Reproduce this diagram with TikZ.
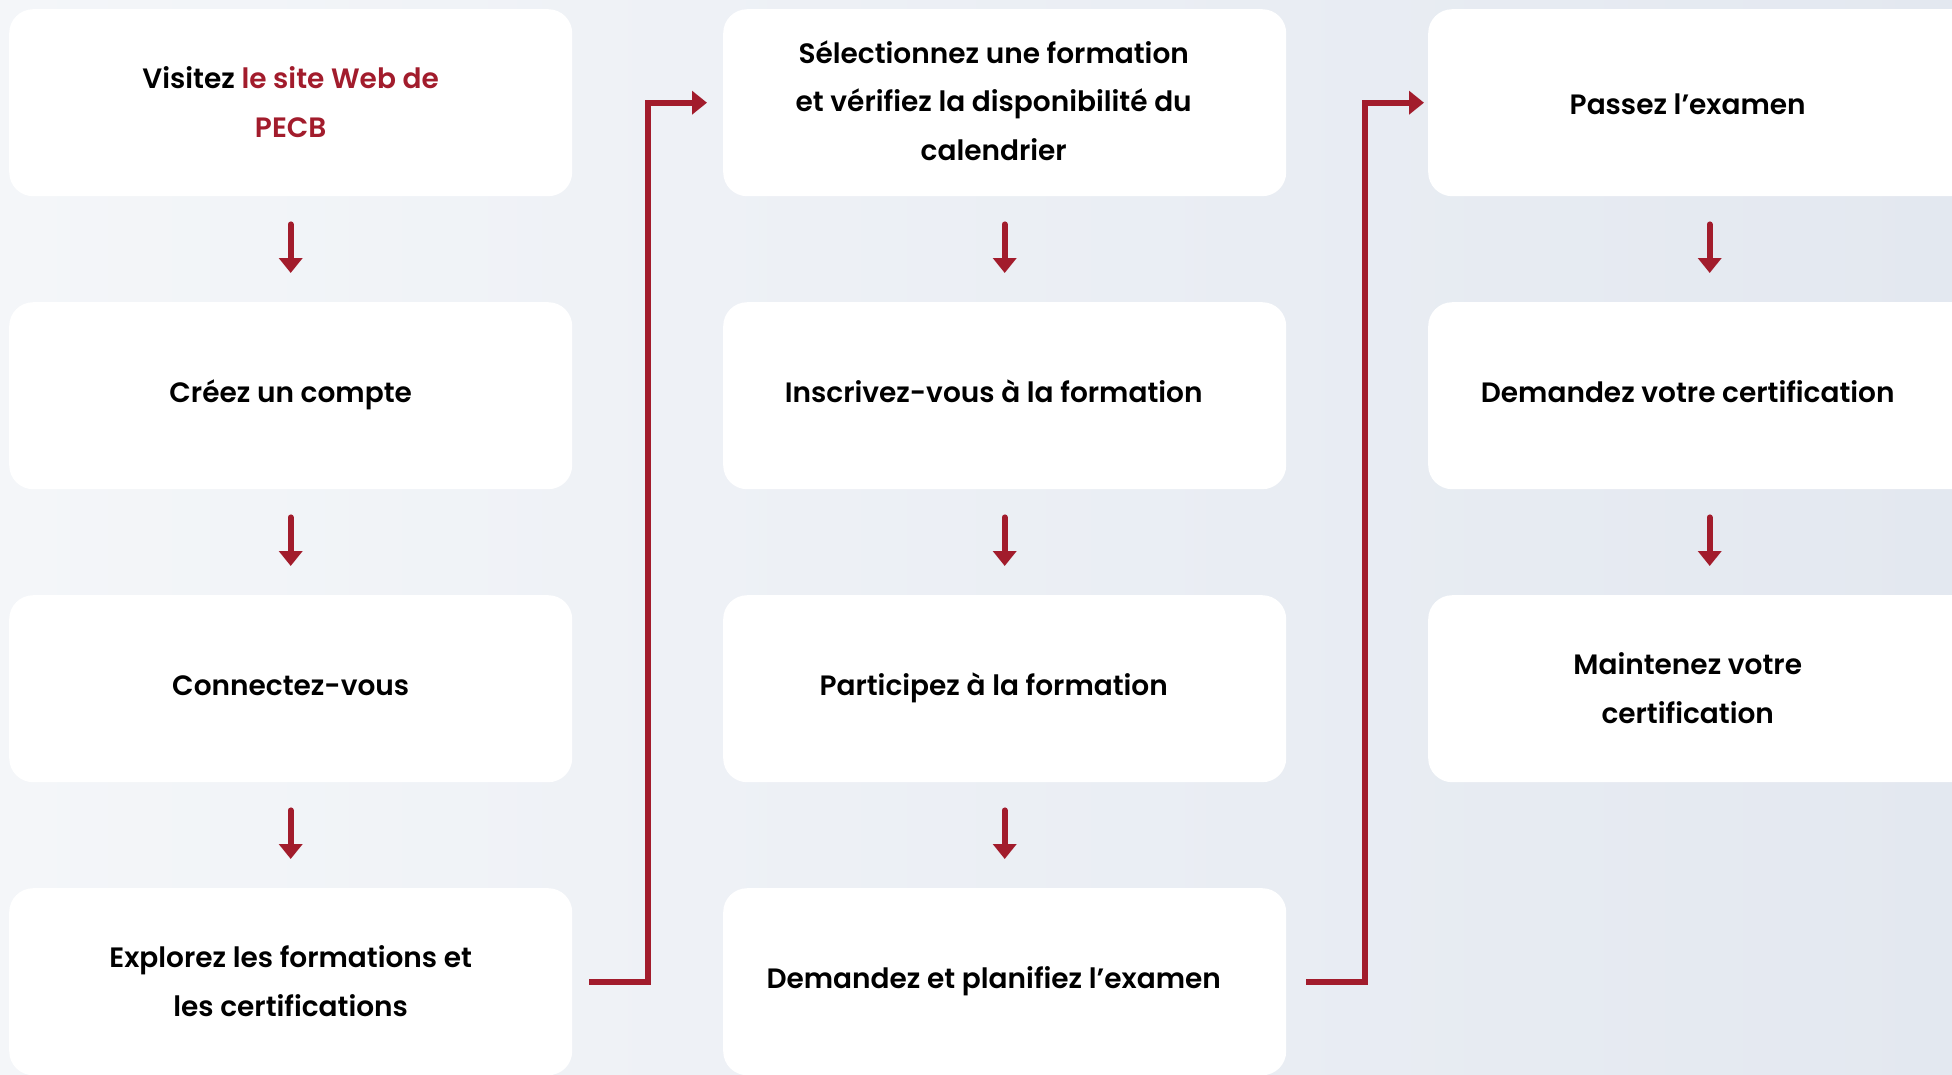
\documentclass[tikz,border=0pt]{standalone}
\usepackage{fontspec}
\setmainfont{Poppins}[UprightFont={* SemiBold}]
\usepackage{xcolor}
\usepackage{tikz}
\usetikzlibrary{arrows.meta}
\definecolor{pecbred}{HTML}{A21C2C}
\definecolor{bgleft}{HTML}{F4F6F9}
\definecolor{bgright}{HTML}{E3E8F0}

\begin{document}
\begin{tikzpicture}[x=1pt, y=-1pt,
    stepbox/.style={fill=white, rounded corners=24pt, minimum width=563pt, minimum height=187pt, inner sep=0pt, anchor=north west},
    steptext/.style={align=center, text=black, inner sep=0pt, yshift=2pt, font=\fontsize{28}{48.5}\selectfont,
        execute at begin node={\rule{0pt}{27pt}}, execute at end node={\rule[-9pt]{0pt}{9pt}}},
    flowarrow/.style={draw=pecbred, line width=6pt, line cap=round, -{Triangle[width=23pt,length=15pt]}}]
    % Page and background
    \useasboundingbox (0,0) rectangle (1952,1074);
    \clip (0,0) rectangle (1952,1074);
    \shade[left color=bgleft, right color=bgright] (0,0) rectangle (1952,1074);

    % Column 1
    \node[stepbox] (visit)   at (9,9)   {};
    \node[stepbox] (account) at (9,302) {};
    \node[stepbox] (login)   at (9,595) {};
    \node[stepbox] (explore) at (9,888) {};

    % Column 2
    \node[stepbox] (select)  at (723,9)   {};
    \node[stepbox] (enrol)   at (723,302) {};
    \node[stepbox] (attend)  at (723,595) {};
    \node[stepbox] (request) at (723,888) {};

    % Column 3 (runs past the right edge)
    \node[stepbox] (exam)     at (1428,9)   {};
    \node[stepbox] (apply)    at (1428,302) {};
    \node[stepbox] (maintain) at (1428,595) {};

    % Texts
    \node[steptext, yshift=-6pt] (visittext) at (visit.center) {Visitez \textcolor{pecbred}{le site Web de}\\\textcolor{pecbred}{PECB}};
    \node[steptext] (accounttext) at (account.center) {Créez un compte};
    \node[steptext] (logintext) at (login.center) {Connectez-vous};
    \node[steptext, yshift=-6pt] (exploretext) at (explore.center) {Explorez les formations et\\les certifications};
    \node[steptext, yshift=-4pt] (selecttext) at ([xshift=-11pt]select.center) {Sélectionnez une formation\\et vérifiez la disponibilité du\\calendrier};
    \node[steptext] (enroltext) at ([xshift=-11pt]enrol.center) {Inscrivez-vous à la formation};
    \node[steptext] (attendtext) at ([xshift=-11pt]attend.center) {Participez à la formation};
    \node[steptext] (requesttext) at ([xshift=-11pt]request.center) {Demandez et planifiez l’examen};
    \node[steptext, yshift=-5pt] (examtext) at ([xshift=-22pt]exam.center) {Passez l’examen};
    \node[steptext] (applytext) at ([xshift=-22pt]apply.center) {Demandez votre certification};
    \node[steptext, yshift=-6pt] (maintaintext) at ([xshift=-22pt]maintain.center) {Maintenez votre\\certification};

    % Down arrows
    \draw[flowarrow, shorten <=28pt, shorten >=29pt] (visit) -- (account);
    \draw[flowarrow, shorten <=28pt, shorten >=29pt] (account) -- (login);
    \draw[flowarrow, shorten <=28pt, shorten >=29pt] (login) -- (explore);
    \draw[flowarrow, shorten <=28pt, shorten >=29pt] (select) -- (enrol);
    \draw[flowarrow, shorten <=28pt, shorten >=29pt] (enrol) -- (attend);
    \draw[flowarrow, shorten <=28pt, shorten >=29pt] (attend) -- (request);
    \draw[flowarrow, shorten <=28pt, shorten >=29pt] (exam) -- (apply);
    \draw[flowarrow, shorten <=28pt, shorten >=29pt] (apply) -- (maintain);

    % Links between columns
    \coordinate (jump1) at (648,0);
    \coordinate (jump2) at (1365,0);
    \draw[flowarrow, line cap=butt, shorten <=17pt, shorten >=16pt] (explore.east) -- (explore.east -| jump1) |- (select.west);
    \draw[flowarrow, line cap=butt, shorten <=20pt, shorten >=4pt] (request.east) -- (request.east -| jump2) |- (exam.west);
\end{tikzpicture}
\end{document}
